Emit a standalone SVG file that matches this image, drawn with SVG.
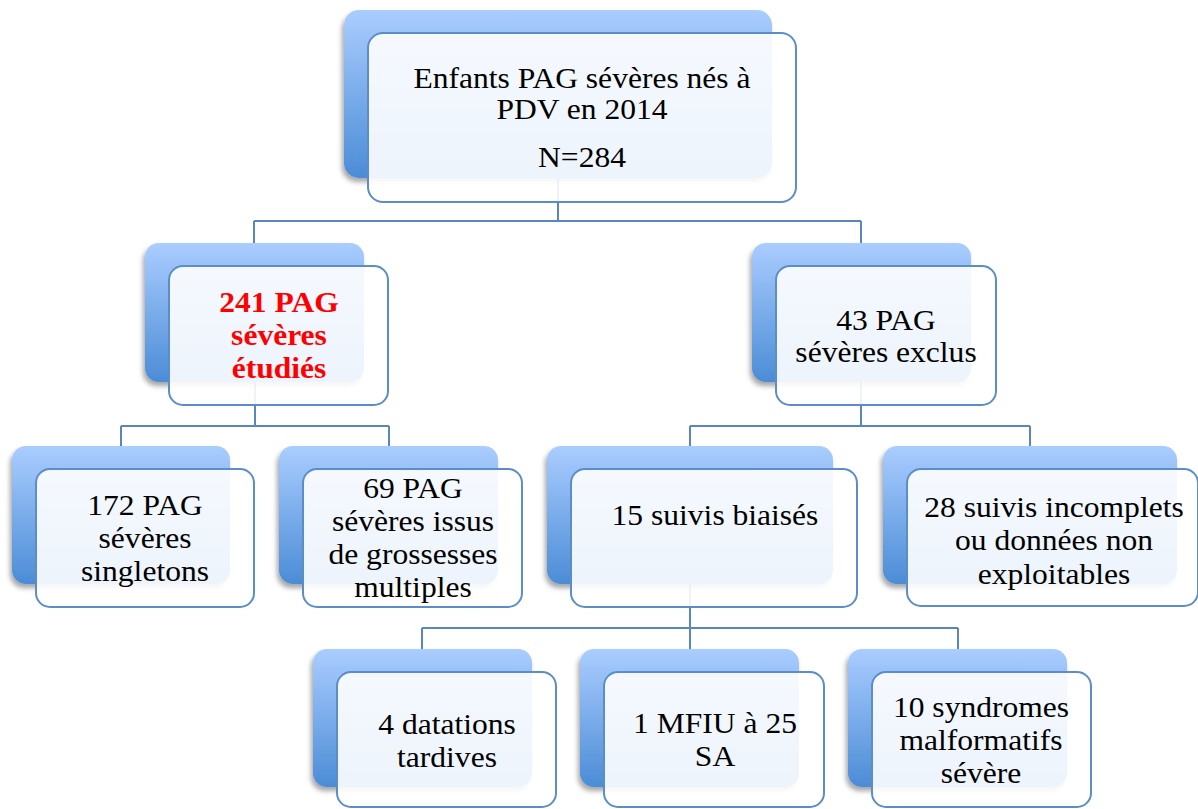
<svg xmlns="http://www.w3.org/2000/svg" width="1198" height="809" viewBox="0 0 1198 809">
  <defs>
    <linearGradient id="blue" x1="0" y1="0" x2="0" y2="1">
      <stop offset="0" stop-color="#aacdff"/>
      <stop offset="1" stop-color="#4b8cd6"/>
    </linearGradient>
    <filter id="shadow" x="-10%" y="-10%" width="120%" height="125%">
      <feDropShadow dx="-2" dy="4" stdDeviation="2.5" flood-color="#000" flood-opacity="0.35"/>
    </filter>
    <style>
      .back { fill: url(#blue); filter: url(#shadow); }
      .front { fill: #ffffff; fill-opacity: 0.9; stroke: #5b8ec6; stroke-width: 2; }
      .conn { fill: none; stroke: #5a87bb; stroke-width: 2; }
    </style>
  </defs>
  <rect width="1198" height="809" fill="#ffffff"/>

  <g id="connectors">
    <path class="conn" d="M558 150 V221 M254 221 H861 M254 221 V243 M861 221 V243"/>
    <path class="conn" d="M255 360 V426 M121 426 H389 M121 426 V446 M389 426 V446"/>
    <path class="conn" d="M861 360 V426 M690 426 H1030 M690 426 V446 M1030 426 V446"/>
    <path class="conn" d="M690 560 V628 M422 628 H958 M422 628 V649 M690 628 V649 M958 628 V649"/>
  </g>

  <g id="n0">
    <rect class="back" x="344" y="10" width="428" height="168" rx="15"/>
    <rect class="front" x="368" y="33" width="428" height="169" rx="15"/>
    <g transform="translate(582,0) scale(1.07,1)" font-family="Liberation Serif, serif" font-size="29.5" text-anchor="middle" fill="#000">
      <text x="0" y="88">Enfants PAG sévères nés à</text>
      <text x="0" y="119">PDV en 2014</text>
      <text x="0" y="167">N=284</text>
    </g>
  </g>

  <g id="n1">
    <rect class="back" x="145" y="243" width="219" height="139" rx="14"/>
    <rect class="front" x="169" y="266" width="219" height="139" rx="14"/>
    <g transform="translate(279,0) scale(1.07,1)" font-family="Liberation Serif, serif" font-size="29.5" text-anchor="middle" fill="#ff0000" font-weight="bold">
      <text x="0" y="312">241 PAG</text>
      <text x="0" y="345">sévères</text>
      <text x="0" y="378">étudiés</text>
    </g>
  </g>

  <g id="n2">
    <rect class="back" x="752" y="243" width="219" height="139" rx="14"/>
    <rect class="front" x="776" y="266" width="220" height="139" rx="14"/>
    <g transform="translate(886,0) scale(1.07,1)" font-family="Liberation Serif, serif" font-size="29.5" text-anchor="middle" fill="#000">
      <text x="0" y="330">43 PAG</text>
      <text x="0" y="362">sévères exclus</text>
    </g>
  </g>

  <g id="n3">
    <rect class="back" x="12" y="446" width="218" height="138" rx="14"/>
    <rect class="front" x="36" y="469" width="218" height="138" rx="14"/>
    <g transform="translate(145,0) scale(1.07,1)" font-family="Liberation Serif, serif" font-size="29.5" text-anchor="middle" fill="#000">
      <text x="0" y="515">172 PAG</text>
      <text x="0" y="548">sévères</text>
      <text x="0" y="581">singletons</text>
    </g>
  </g>

  <g id="n4">
    <rect class="back" x="279" y="446" width="219" height="138" rx="14"/>
    <rect class="front" x="303" y="469" width="219" height="138" rx="14"/>
    <g transform="translate(413,0) scale(1.07,1)" font-family="Liberation Serif, serif" font-size="29.5" text-anchor="middle" fill="#000">
      <text x="0" y="498">69 PAG</text>
      <text x="0" y="531">sévères issus</text>
      <text x="0" y="564">de grossesses</text>
      <text x="0" y="597">multiples</text>
    </g>
  </g>

  <g id="n5">
    <rect class="back" x="547" y="446" width="286" height="138" rx="14"/>
    <rect class="front" x="571" y="469" width="286" height="138" rx="14"/>
    <g transform="translate(715,0) scale(1.07,1)" font-family="Liberation Serif, serif" font-size="29.5" text-anchor="middle" fill="#000">
      <text x="0" y="525">15 suivis biaisés</text>
    </g>
  </g>

  <g id="n6">
    <rect class="back" x="883" y="446" width="294" height="138" rx="14"/>
    <rect class="front" x="907" y="469" width="291" height="137" rx="14"/>
    <g transform="translate(1054,0) scale(1.07,1)" font-family="Liberation Serif, serif" font-size="29.5" text-anchor="middle" fill="#000">
      <text x="0" y="517">28 suivis incomplets</text>
      <text x="0" y="550">ou données non</text>
      <text x="0" y="584">exploitables</text>
    </g>
  </g>

  <g id="n7">
    <rect class="back" x="313" y="649" width="219" height="138" rx="14"/>
    <rect class="front" x="337" y="672" width="219" height="135" rx="14"/>
    <g transform="translate(447,0) scale(1.07,1)" font-family="Liberation Serif, serif" font-size="29.5" text-anchor="middle" fill="#000">
      <text x="0" y="734">4 datations</text>
      <text x="0" y="767">tardives</text>
    </g>
  </g>

  <g id="n8">
    <rect class="back" x="580" y="649" width="219" height="138" rx="14"/>
    <rect class="front" x="604" y="672" width="220" height="135" rx="14"/>
    <g transform="translate(715,0) scale(1.07,1)" font-family="Liberation Serif, serif" font-size="29.5" text-anchor="middle" fill="#000">
      <text x="0" y="733">1 MFIU à 25</text>
      <text x="0" y="766">SA</text>
    </g>
  </g>

  <g id="n9">
    <rect class="back" x="848" y="649" width="219" height="138" rx="14"/>
    <rect class="front" x="872" y="672" width="219" height="135" rx="14"/>
    <g transform="translate(981,0) scale(1.07,1)" font-family="Liberation Serif, serif" font-size="29.5" text-anchor="middle" fill="#000">
      <text x="0" y="717">10 syndromes</text>
      <text x="0" y="750">malformatifs</text>
      <text x="0" y="783">sévère</text>
    </g>
  </g>
</svg>
